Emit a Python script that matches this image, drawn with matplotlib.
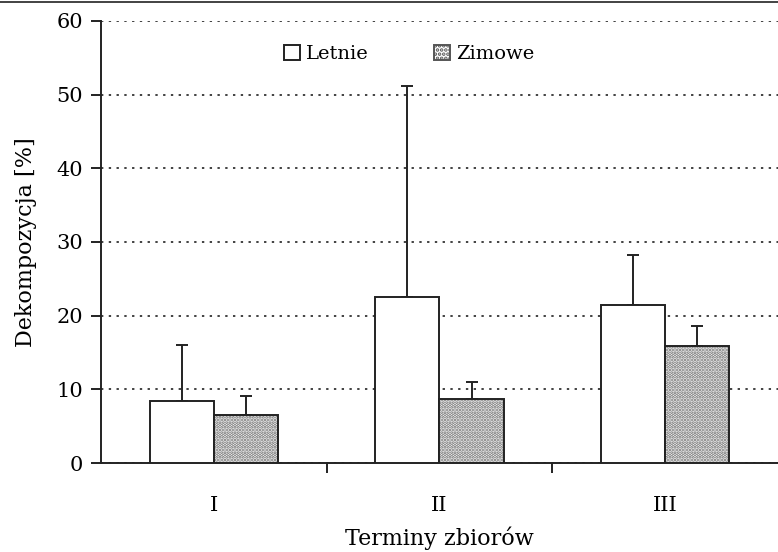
import matplotlib.pyplot as plt
from matplotlib.lines import Line2D
from matplotlib.patches import Patch
import numpy as np

plt.rcParams['font.family'] = ['DejaVu Serif']

terms = ['I', 'II', 'III']
letnie = [8.4, 22.5, 21.4]
letnie_err = [7.6, 28.7, 6.8]
zimowe = [6.5, 8.7, 15.9]
zimowe_err = [2.6, 2.3, 2.7]

fig = plt.figure(figsize=(7.78, 5.52), dpi=100)
ax = fig.add_axes([0.1298, 0.1612, 0.8702, 0.8008])

x = np.arange(len(terms))
w = 0.285

ax.bar(x - w / 2, letnie, width=w, color='white', edgecolor='#222222',
       linewidth=1.4, zorder=3)
ax.errorbar(x - w / 2, letnie, yerr=[np.zeros(3), letnie_err], fmt='none',
            ecolor='#222222', elinewidth=1.4, capsize=4, capthick=1.4, zorder=2)

plt.rcParams['hatch.linewidth'] = 1.8
ax.bar(x + w / 2, zimowe, width=w, color='white', edgecolor='#6e6e6e',
       hatch='.....', linewidth=0, zorder=3)
ax.bar(x + w / 2, zimowe, width=w, color='none', edgecolor='#222222',
       linewidth=1.4, zorder=4)
ax.errorbar(x + w / 2, zimowe, yerr=[np.zeros(3), zimowe_err], fmt='none',
            ecolor='#222222', elinewidth=1.4, capsize=4, capthick=1.4, zorder=2)

ax.set_xlim(-0.5, 2.5)
ax.set_ylim(0, 60)
ax.set_yticks(range(0, 61, 10))
ax.yaxis.grid(True, linestyle=(0, (1.3, 3.0)), color='#333333', linewidth=1.3)
ax.set_axisbelow(True)

ax.set_xticks(x)
ax.set_xticklabels(terms, fontsize=15)
ax.tick_params(axis='x', length=0, pad=24)
ax.set_xticks([0.5, 1.5], minor=True)
ax.tick_params(axis='x', which='minor', length=7, width=1.4, color='#222222')
ax.tick_params(axis='y', labelsize=15, length=7, width=1.4, color='#222222', pad=6)

for s in ['top', 'right']:
    ax.spines[s].set_visible(False)
for s in ['left', 'bottom']:
    ax.spines[s].set_linewidth(1.4)
    ax.spines[s].set_color('#222222')

ax.set_ylabel('Dekompozycja [%]', fontsize=16, labelpad=14)
ax.set_xlabel('Terminy zbiorów', fontsize=16, labelpad=8)

handles = [Patch(facecolor='white', edgecolor='#222222', linewidth=1.4),
           Patch(facecolor='white', edgecolor='#555555', hatch='....', linewidth=1.4)]
leg = ax.legend(handles, ['Letnie', 'Zimowe'], ncol=2, frameon=False, fontsize=14,
                loc='upper center', bbox_to_anchor=(0.455, 0.985),
                handlelength=0.8, handleheight=0.8, handletextpad=0.3,
                columnspacing=3.4)

fig.add_artist(Line2D([0, 1], [0.996, 0.996], color='#222222', linewidth=1.2))

fig.savefig('out.png', dpi=100)
